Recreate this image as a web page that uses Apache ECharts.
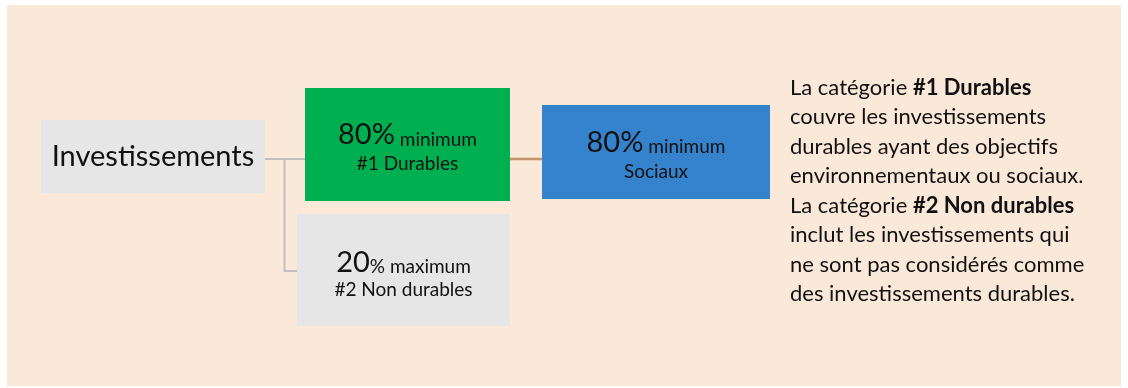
<!DOCTYPE html>
<html>
<head>
<meta charset="utf-8">
<script src="https://cdn.jsdelivr.net/npm/echarts@6/dist/echarts.min.js"></script>
<style>
  html, body { margin: 0; padding: 0; background: #ffffff; }
  #chart { width: 1128px; height: 388px; }
</style>
</head>
<body>
<div id="chart"></div>
<script>
// ---- data ----
const rootLabel = 'Investissements';
const categoryLabels = ['#1 Durables', '#2 Non durables', 'Sociaux'];
const shareValues = [80, 20, 80];
const shareBounds = ['minimum', 'maximum', 'minimum'];
const noteLines = [
  [['La catégorie ', false], ['#1 Durables', true]],
  [['couvre les investissements', false]],
  [['durables ayant des objectifs', false]],
  [['environnementaux ou sociaux.', false]],
  [['La catégorie ', false], ['#2 Non durables', true]],
  [['inclut les investissements qui', false]],
  [['ne sont pas considérés comme', false]],
  [['des investissements durables.', false]]
];

// ---- styling / layout ----
const FONT = 'Lato, "Open Sans", sans-serif';
const BASE = 0.387;          // baseline offset below the 'middle' line, per em
const BIG = 29, SMALL = 19, NOTE = 22;
const C_BG = '#FAE8D8', C_GREY = '#E6E6E6', C_GREEN = '#00B050', C_BLUE = '#3583CC';
const C_LINE = '#BFBFBF', C_LINK = '#C4956E', C_TEXT = '#111111';

const boxes = [
  { x: 305, y: 88, w: 205, h: 113, fill: C_GREEN, b1: 142.3, b2: 171.5, pctBig: true },
  { x: 297, y: 214, w: 213, h: 112, fill: C_GREY, b1: 270, b2: 297.3, pctBig: false },
  { x: 542, y: 105, w: 228, h: 94, fill: C_BLUE, b1: 150, b2: 179, pctBig: true }
];

const els = [];
// panel
els.push({ type: 'rect', shape: { x: 7, y: 5, width: 1114, height: 381 }, style: { fill: C_BG } });

// connectors
els.push({ type: 'polyline', shape: { points: [[265, 159], [305, 159]] }, style: { stroke: C_LINE, lineWidth: 2, fill: null } });
els.push({ type: 'polyline', shape: { points: [[284.5, 159], [284.5, 271], [297, 271]] }, style: { stroke: C_LINE, lineWidth: 2, fill: null } });
els.push({ type: 'polyline', shape: { points: [[510, 159], [542, 159]] }, style: { stroke: C_LINK, lineWidth: 2.5, fill: null } });

// root box
els.push({ type: 'rect', shape: { x: 41, y: 120, width: 224, height: 73 }, style: { fill: C_GREY } });
els.push({ type: 'text', style: { text: rootLabel, x: 153, y: 167.7 - BASE * BIG, align: 'center', verticalAlign: 'middle',
  font: BIG + 'px ' + FONT, fill: C_TEXT } });

// category boxes
boxes.forEach((b, i) => {
  els.push({ type: 'rect', shape: { x: b.x, y: b.y, width: b.w, height: b.h }, style: { fill: b.fill } });
  const big = b.pctBig ? shareValues[i] + '%' : String(shareValues[i]);
  const small = (b.pctBig ? ' ' : '% ') + shareBounds[i];
  const hb = 36, hs = hb - 2 * BASE * (BIG - SMALL);
  els.push({ type: 'text', style: {
    text: '{g|' + big + '}{s|' + small + '}', x: b.x + b.w / 2, y: b.b1 - BASE * BIG,
    align: 'center', verticalAlign: 'middle', fill: C_TEXT,
    rich: {
      g: { fontFamily: FONT, fontSize: BIG, lineHeight: hb, verticalAlign: 'bottom', fill: C_TEXT },
      s: { fontFamily: FONT, fontSize: SMALL, lineHeight: hs, verticalAlign: 'bottom', fill: C_TEXT }
    } } });
  els.push({ type: 'text', style: { text: categoryLabels[i], x: b.x + b.w / 2, y: b.b2 - BASE * SMALL,
    align: 'center', verticalAlign: 'middle', font: SMALL + 'px ' + FONT, fill: C_TEXT } });
});

// note paragraph
const NOTE_LH = 29.5;
const noteText = noteLines.map(line => line.map(([t, bold]) => '{' + (bold ? 'b' : 'n') + '|' + t + '}').join('')).join('\n');
els.push({ type: 'text', style: {
  text: noteText, x: 790, y: 96 - NOTE_LH / 2 - BASE * NOTE, align: 'left', verticalAlign: 'top',
  rich: {
    n: { fontFamily: FONT, fontSize: NOTE, lineHeight: NOTE_LH, fill: C_TEXT },
    b: { fontFamily: FONT, fontSize: NOTE, lineHeight: NOTE_LH, fontWeight: 'bold', fill: C_TEXT }
  } } });

const chart = echarts.init(document.getElementById('chart'), null, { renderer: 'canvas' });
chart.setOption({ backgroundColor: '#ffffff', animation: false, graphic: { elements: els } });
</script>
</body>
</html>
